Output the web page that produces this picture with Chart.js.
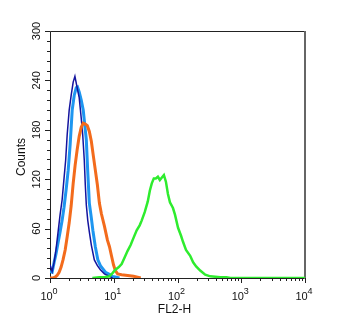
<!DOCTYPE html>
<html>
<head>
<meta charset="utf-8">
<script src="https://cdn.jsdelivr.net/npm/chart.js@4/dist/chart.umd.min.js"></script>
<style>
  html, body { margin: 0; padding: 0; background: #fff; }
  canvas { display: block; }
</style>
</head>
<body>
<canvas id="hist" width="350" height="325"></canvas>
<script>
// FL2-H channel values (log axis) and event counts for each histogram
const navyX = [1.0, 1.08, 1.16, 1.24, 1.34, 1.44, 1.55, 1.66, 1.76, 1.86, 2.0, 2.15, 2.31, 2.46, 2.67, 2.87, 3.09, 3.26, 3.45, 3.58, 3.71, 3.91, 4.14, 4.45, 4.96, 5.54, 6.17, 7.14, 8.57, 9.56];
const navyY = [16, 8, 19, 34, 56, 77, 95, 121, 143, 174, 204, 222, 238, 245, 231, 219, 194, 174, 143, 113, 89, 70, 56, 40, 22, 15, 10, 5, 2, 0];

const blueX = [1.0, 1.08, 1.16, 1.24, 1.34, 1.44, 1.55, 1.66, 1.79, 1.93, 2.07, 2.23, 2.40, 2.58, 2.70, 2.87, 3.09, 3.32, 3.51, 3.71, 3.91, 4.14, 4.45, 4.70, 5.14, 5.63, 6.17, 6.76, 7.41, 8.26, 9.56, 11.0, 12.3];
const blueY = [8, 7, 19, 29, 43, 56, 70, 86, 107, 131, 162, 204, 222, 231, 232, 226, 216, 204, 186, 168, 129, 91, 73, 58, 38, 22, 15, 11, 7, 5, 2, 1, 0];

const orangeX = [1.0, 1.12, 1.20, 1.29, 1.39, 1.49, 1.60, 1.73, 1.86, 2.0, 2.15, 2.31, 2.48, 2.67, 2.87, 3.09, 3.32, 3.58, 3.85, 4.14, 4.45, 4.79, 5.14, 5.54, 5.95, 6.40, 7.14, 7.96, 8.57, 9.21, 9.91, 10.6, 11.5, 13.3, 16.5, 20.5, 23.7, 26.5];
const orangeY = [0, 0, 1, 3, 7, 13, 22, 34, 50, 67, 88, 115, 137, 156, 172, 183, 188, 187, 185, 178, 166, 148, 131, 113, 91, 78, 63, 46, 38, 27, 16, 9, 5, 4, 3, 2, 1, 0];

const greenX = [4.62, 5.95, 7.14, 8.57, 9.56, 10.6, 11.9, 13.3, 14.8, 16.5, 18.4, 20.5, 22.9, 25.5, 27.5, 30.6, 34.2, 36.8, 39.5, 42.5, 45.7, 49.2, 52.9, 56.9, 61.2, 65.8, 70.8, 76.1, 84.9, 91.3, 102, 114, 122, 136, 158, 176, 196, 227, 272, 327, 392, 470, 585, 676, 10000];
const greenY = [0, 1, 1, 2, 6, 10, 13, 17, 25, 33, 40, 49, 58, 64, 70, 80, 93, 106, 115, 121, 121, 123, 119, 122, 125, 117, 102, 92, 85, 77, 61, 51, 44, 34, 27, 19, 14, 9, 4, 2, 1.5, 1, 1, 0, 0];

const yTicks = [0, 60, 120, 180, 240, 300];
const xDecades = [0, 1, 2, 3, 4];
const xTitle = "FL2-H";
const yTitle = "Counts";

function points(xs, ys) {
    return xs.map((x, i) => ({ x: x, y: ys[i] }));
}

const FONT = '"Liberation Sans", Arial, Helvetica, sans-serif';

// Frame, tick marks and labels drawn against the chart's own scales
const axesPlugin = {
    id: "axesPlugin",
    beforeDatasetsDraw(chart) {
        const a = chart.chartArea;
        const ctx = chart.ctx;
        ctx.save();
        ctx.strokeStyle = "#222";
        ctx.lineWidth = 1;
        ctx.beginPath();
        ctx.moveTo(a.right, a.top + 0.5);
        ctx.lineTo(a.left + 0.5, a.top + 0.5);
        ctx.lineTo(a.left + 0.5, a.bottom + 0.5);
        ctx.lineTo(a.right, a.bottom + 0.5);
        ctx.stroke();
        ctx.strokeStyle = "#666";
        ctx.lineWidth = 2;
        ctx.beginPath();
        ctx.moveTo(a.right, a.top);
        ctx.lineTo(a.right, a.bottom + 1);
        ctx.stroke();
        ctx.restore();
    },
    afterDraw(chart) {
        const a = chart.chartArea;
        const ctx = chart.ctx;
        const xs = chart.scales.x;
        const ys = chart.scales.y;
        ctx.save();
        ctx.strokeStyle = "#222";
        ctx.fillStyle = "#111";
        ctx.lineWidth = 1;

        // y ticks every 12 counts, longer at labelled values
        ctx.beginPath();
        for (let v = 0; v <= 300; v += 12) {
            const py = Math.round(ys.getPixelForValue(v)) + 0.5;
            const len = v % 60 === 0 ? 5 : 3;
            ctx.moveTo(a.left - len, py);
            ctx.lineTo(a.left + 0.5, py);
        }
        // x ticks: decades and their 2..9 subdivisions
        for (let d = 0; d <= 4; d++) {
            const top = d === 4 ? 1 : 9;
            for (let m = 1; m <= top; m++) {
                const px = Math.round(xs.getPixelForValue(m * Math.pow(10, d))) + 0.5;
                const len = m === 1 ? 5 : 3;
                ctx.moveTo(px, a.bottom);
                ctx.lineTo(px, a.bottom + len);
            }
        }
        ctx.stroke();

        // y labels, rotated to read upward
        ctx.font = "11px " + FONT;
        ctx.textAlign = "center";
        ctx.textBaseline = "alphabetic";
        yTicks.forEach(v => {
            const py = ys.getPixelForValue(v);
            ctx.save();
            ctx.translate(39.5, py);
            ctx.rotate(-Math.PI / 2);
            ctx.fillText(String(v), 0, 0);
            ctx.restore();
        });

        // x labels as 10 with a raised exponent
        xDecades.forEach(d => {
            const px = xs.getPixelForValue(Math.pow(10, d));
            ctx.font = "11px " + FONT;
            const wBase = ctx.measureText("10").width;
            ctx.font = "9px " + FONT;
            const wExp = ctx.measureText(String(d)).width;
            const start = px - (wBase + wExp) / 2 - 1;
            ctx.textAlign = "left";
            ctx.font = "11px " + FONT;
            ctx.fillText("10", start, 299.5);
            ctx.font = "9px " + FONT;
            ctx.fillText(String(d), start + wBase, 293.5);
        });

        // axis titles
        ctx.font = "12px " + FONT;
        ctx.textAlign = "center";
        ctx.fillText(xTitle, (a.left + a.right) / 2 - 3, 313);
        ctx.save();
        ctx.translate(25, 157);
        ctx.rotate(-Math.PI / 2);
        ctx.fillText(yTitle, 0, 0);
        ctx.restore();
        ctx.restore();
    }
};

const canvas = document.getElementById("hist");
new Chart(canvas.getContext("2d"), {
    type: "line",
    data: {
        datasets: [
            { label: "green", data: points(greenX, greenY), borderColor: "#2eec2e", borderWidth: 2.5 },
            { label: "orange", data: points(orangeX, orangeY), borderColor: "#f36b1c", borderWidth: 3 },
            { label: "navy", data: points(navyX, navyY), borderColor: "#14149e", borderWidth: 1.5 },
            { label: "blue", data: points(blueX, blueY), borderColor: "#1e96f0", borderWidth: 3 }
        ]
    },
    options: {
        responsive: false,
        animation: false,
        devicePixelRatio: 1,
        layout: { padding: { top: 31, right: 45, left: 0, bottom: 0 } },
        elements: {
            point: { radius: 0 },
            line: { tension: 0, borderJoinStyle: "miter", fill: false }
        },
        plugins: {
            legend: { display: false },
            tooltip: { enabled: false }
        },
        scales: {
            x: {
                type: "logarithmic",
                min: 1,
                max: 10000,
                ticks: { display: false },
                grid: { display: false },
                border: { display: false },
                afterFit: s => { s.height = 47; }
            },
            y: {
                type: "linear",
                min: 0,
                max: 300,
                ticks: { display: false },
                grid: { display: false },
                border: { display: false },
                afterFit: s => { s.width = 50; }
            }
        }
    },
    plugins: [axesPlugin]
});
</script>
</body>
</html>
